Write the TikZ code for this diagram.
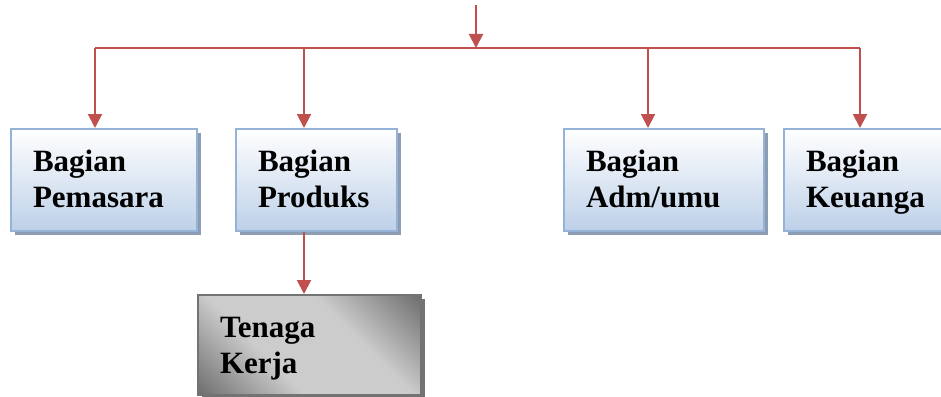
\documentclass[tikz,border=0pt]{standalone}
\usepackage{fontspec}
\setmainfont{Liberation Serif}
\usetikzlibrary{arrows.meta,shadows}
\definecolor{garismerah}{HTML}{C0504D}
\definecolor{tepibiru}{HTML}{95B3D7}
\definecolor{dasarbiru}{HTML}{BDD0E8}
\definecolor{bayangbiru}{HTML}{8C9CB2}
\pgfdeclarehorizontalshading{kilau}{100bp}{color(0bp)=(black!62); color(14bp)=(black!58);
  color(38bp)=(black!20); color(62bp)=(black!20); color(86bp)=(black!58); color(100bp)=(black!62)}

\begin{document}
\begin{tikzpicture}[x=1pt,y=-1pt,
  bagian/.style={draw=tepibiru,line width=2pt,top color=white,bottom color=dasarbiru,
    drop shadow={shadow xshift=4pt,shadow yshift=-4pt,fill=bayangbiru,opacity=1},
    anchor=north west,align=left,inner xsep=22pt,inner ysep=0pt,
    text height=42pt,text depth=60pt,font=\fontsize{31}{36}\selectfont\bfseries},
  tenaga/.style={draw=black!55,line width=2pt,shading=kilau,shading angle=45,
    drop shadow={shadow xshift=4pt,shadow yshift=-4pt,fill=black!55,opacity=1},
    anchor=north west,align=left,inner xsep=22pt,inner ysep=0pt,
    text height=42pt,text depth=58pt,font=\fontsize{31}{36}\selectfont\bfseries},
  panah/.style={draw=garismerah,line width=2pt,-{Triangle[length=14pt,width=14pt]}},
  garis/.style={draw=garismerah,line width=2pt}]
\useasboundingbox (0,0) rectangle (941,396);

% kotak bagian
\node[bagian,text width=142pt] (pemasaran) at (10,128) {Bagian\\Pemasara};
\node[bagian,text width=117pt] (produksi) at (235,128) {Bagian\\Produks};
\node[bagian,text width=156pt] (adm) at (563,128) {Bagian\\Adm/umu};
\node[bagian,text width=126pt] (keuangan) at (783,128) {Bagian\\Keuanga};
\node[tenaga,text width=179pt] (kerja) at (197,294) {Tenaga\\Kerja};

\coordinate (atas) at (476,5);
\coordinate (cabang) at (476,48);
\draw[panah] (atas) -- (cabang);

\foreach \x/\y in {95/pemasaran,304/produksi,648/adm,860/keuangan}
{
	\coordinate (t\y) at (\x,48);
	\draw[panah] (t\y) -- (t\y |- \y.north);
}
\draw[garis] (tpemasaran) -- (tkeuangan);

\draw[panah] (tproduksi |- produksi.south) -- (tproduksi |- kerja.north);

\end{tikzpicture}
\end{document}
